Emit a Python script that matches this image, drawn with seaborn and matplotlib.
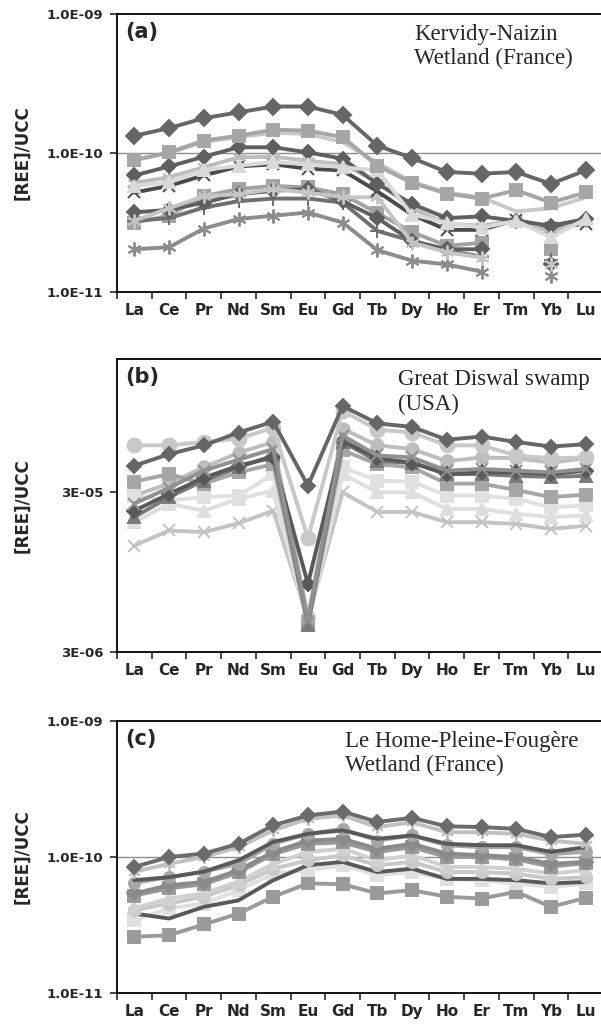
import numpy as np
import matplotlib
matplotlib.use("Agg")
import matplotlib.pyplot as plt
import matplotlib.ticker as mticker
import pandas as pd
import seaborn as sns

# REE normalised to upper continental crust
elements = ['La', 'Ce', 'Pr', 'Nd', 'Sm', 'Eu', 'Gd', 'Tb', 'Dy', 'Ho', 'Er', 'Tm', 'Yb', 'Lu']
nan = np.nan

# (a) Kervidy-Naizin, values in units of 1e-10
kn_1 = [1.33, 1.51, 1.78, 1.96, 2.16, 2.16, 1.88, 1.13, 0.92, 0.73, 0.71, 0.73, 0.60, 0.75]
kn_2 = [0.89, 1.01, 1.23, 1.33, 1.47, 1.45, 1.30, 0.81, 0.61, 0.51, 0.47, 0.54, 0.44, 0.52]
kn_3 = [0.89, 1.00, 1.20, 1.30, 1.40, 1.37, 1.20, 0.85, 0.62, 0.52, 0.48, 0.38, 0.40, 0.48]
kn_4 = [0.69, 0.80, 0.94, 1.10, 1.10, 1.01, 0.91, 0.60, 0.43, 0.34, 0.35, 0.325, 0.30, 0.335]
kn_5 = [0.52, 0.58, 0.69, 0.80, 0.83, 0.77, 0.75, 0.53, 0.36, 0.28, 0.28, 0.33, 0.29, 0.31]
kn_6 = [0.61, 0.67, 0.79, 0.93, 0.94, 0.88, 0.83, 0.62, 0.40, 0.31, 0.30, 0.33, 0.27, 0.33]
kn_7 = [0.58, 0.615, 0.755, 0.81, 0.86, 0.83, 0.79, 0.75, 0.36, 0.316, 0.29, 0.325, 0.247, 0.335]
kn_8 = [0.374, 0.39, 0.44, 0.505, 0.535, 0.55, 0.45, 0.34, 0.233, 0.203, 0.203, nan, 0.158, nan]
kn_9 = [0.325, 0.34, 0.405, 0.45, 0.47, 0.47, 0.44, 0.275, 0.233, 0.198, 0.18, nan, 0.17, nan]
kn_10 = [0.315, 0.354, 0.49, 0.55, 0.58, 0.565, 0.505, 0.37, 0.27, 0.215, 0.226, nan, 0.203, nan]
kn_11 = [0.325, 0.40, 0.49, 0.505, 0.55, 0.52, 0.48, 0.48, 0.227, 0.193, 0.177, nan, 0.158, nan]
kn_12 = [0.203, 0.21, 0.286, 0.335, 0.354, 0.373, 0.316, 0.20, 0.168, 0.158, 0.14, nan, 0.13, nan]

# (b) Great Diswal swamp, values in units of 1e-5
gd_1 = [4.4, 5.2, 5.9, 7.1, 8.3, 3.3, 10.4, 8.1, 7.7, 6.4, 6.7, 6.2, 5.8, 6.0]
gd_2 = [5.9, 5.9, 6.2, 6.5, 7.6, 1.55, 9.7, 7.4, 7.1, 5.9, 5.9, 5.1, 4.9, 4.96]
gd_3 = [2.86, 3.4, 4.3, 5.3, 6.2, 0.50, 7.5, 5.9, 5.6, 4.7, 4.96, 4.9, 4.6, 4.9]
gd_4 = [2.55, 3.2, 4.1, 4.8, 5.6, 0.47, 6.8, 5.1, 4.96, 4.1, 4.2, 4.1, 4.0, 4.2]
gd_5 = [2.1, 2.8, 3.55, 4.3, 5.1, 0.44, 6.2, 4.7, 4.6, 3.9, 3.9, 3.8, 3.75, 3.8]
gd_6 = [2.3, 2.93, 3.7, 4.4, 4.96, 0.80, 6.3, 4.9, 4.6, 3.9, 4.0, 4.0, 3.9, 4.1]
gd_7 = [3.5, 3.9, 3.4, 4.0, 4.5, 0.45, 5.5, 4.5, 4.3, 3.4, 3.4, 3.1, 2.8, 2.9]
gd_8 = [2.86, 2.66, 2.8, 2.86, 3.9, 0.47, 4.3, 3.55, 3.5, 2.86, 2.86, 2.73, 2.42, 2.48]
gd_9 = [1.95, 2.54, 2.3, 2.73, 3.07, 0.45, 3.9, 3.0, 3.0, 2.36, 2.36, 2.2, 2.1, 2.15]
gd_10 = [1.39, 1.73, 1.69, 1.92, 2.3, 0.48, 3.0, 2.26, 2.26, 1.95, 1.95, 1.9, 1.77, 1.85]

# (c) Le Home-Pleine-Fougere, values in units of 1e-10
lh_1 = [0.845, 1.0, 1.06, 1.25, 1.71, 2.02, 2.16, 1.81, 1.94, 1.68, 1.66, 1.61, 1.40, 1.46]
lh_2 = [0.78, 0.89, 1.0, 1.18, 1.57, 1.91, 2.02, 1.66, 1.80, 1.52, 1.52, 1.48, 1.32, 1.25]
lh_3 = [0.675, 0.71, 0.78, 0.945, 1.29, 1.48, 1.57, 1.36, 1.44, 1.25, 1.22, 1.22, 1.09, 1.18]
lh_4 = [0.645, 0.71, 0.78, 0.89, 1.25, 1.48, 1.61, 1.32, 1.44, 1.22, 1.18, 1.18, 1.05, 1.09]
lh_5 = [0.54, 0.62, 0.655, 0.80, 1.09, 1.32, 1.36, 1.15, 1.25, 1.06, 1.03, 1.0, 0.89, 0.92]
lh_6 = [0.52, 0.59, 0.63, 0.77, 1.05, 1.25, 1.28, 1.09, 1.18, 1.0, 1.0, 0.96, 0.85, 0.90]
lh_7 = [0.406, 0.455, 0.51, 0.62, 0.82, 0.945, 1.03, 0.87, 0.92, 0.775, 0.775, 0.755, 0.69, 0.71]
lh_8 = [0.42, 0.495, 0.54, 0.66, 0.89, 1.09, 1.15, 0.945, 1.03, 0.845, 0.845, 0.82, 0.755, 0.80]
lh_9 = [0.384, 0.353, 0.43, 0.48, 0.675, 0.87, 0.92, 0.775, 0.82, 0.69, 0.69, 0.675, 0.64, 0.655]
lh_10 = [0.343, 0.42, 0.455, 0.57, 0.755, 0.80, 0.87, 0.735, 0.775, 0.69, 0.675, 0.64, 0.60, 0.64]
lh_11 = [0.259, 0.266, 0.319, 0.384, 0.51, 0.64, 0.63, 0.54, 0.57, 0.51, 0.495, 0.555, 0.43, 0.50]

ast = (6, 2, 0)  # excel-like asterisk

# (values, colour, marker, markersize)
panel_a = [(kn_12, '#8c8c8c', ast, 10), (kn_10, '#a3a3a3', 's', 9), (kn_9, '#707070', '+', 10),
           (kn_8, '#5f5f5f', 'D', 7), (kn_11, '#c4c4c4', ast, 10), (kn_5, '#4a4a4a', 'x', 8),
           (kn_6, '#bdbdbd', ast, 10), (kn_4, '#5f5f5f', 'D', 7), (kn_7, '#d9d9d9', '^', 9),
           (kn_3, '#c8c8c8', None, 0), (kn_2, '#a6a6a6', 's', 9), (kn_1, '#666666', 'D', 8)]
panel_b = [(gd_3, '#bdbdbd', 'o', 9), (gd_10, '#c3c3c3', 'x', 9), (gd_9, '#dedede', '^', 9),
           (gd_8, '#e0e0e0', 's', 9), (gd_7, '#a6a6a6', 's', 9), (gd_5, '#7a7a7a', '^', 9),
           (gd_6, '#595959', 'D', 7), (gd_4, '#909090', 'x', 8), (gd_2, '#c8c8c8', 'o', 10),
           (gd_1, '#666666', 'D', 7)]
panel_c = [(lh_11, '#9a9a9a', 's', 9), (lh_10, '#e0e0e0', 's', 9), (lh_9, '#595959', None, 0),
           (lh_7, '#c8c8c8', 'o', 8), (lh_8, '#d0d0d0', '^', 8), (lh_6, '#999999', 's', 8),
           (lh_5, '#8a8a8a', 'D', 7), (lh_4, '#a6a6a6', 'o', 8), (lh_3, '#595959', None, 0),
           (lh_2, '#c0c0c0', ast, 9), (lh_1, '#6b6b6b', 'D', 7)]

sns.set_style('ticks')
plt.rcParams['font.family'] = ['DejaVu Sans']
plt.rcParams['font.weight'] = 'bold'

fig = plt.figure(figsize=(6.01, 10.26), dpi=100)
W, H = 601.0, 1026.0
left, right = 117, 603


def make_ax(top, bottom):
    return fig.add_axes([left / W, (H - bottom) / H, (right - left) / W, (bottom - top) / H])


def draw(ax, series, scale):
    for vals, color, marker, ms in series:
        df = pd.DataFrame({'pos': np.arange(len(elements)), 'val': np.array(vals, float) * scale})
        df['seg'] = df['val'].isna().cumsum()
        df = df.dropna()
        kw = dict(color=color, linewidth=2.8, legend=False, sort=False, ax=ax)
        if marker is not None:
            kw.update(marker=marker, markersize=ms, markeredgecolor=color,
                      markerfacecolor=color, markeredgewidth=1.4)
        sns.lineplot(data=df, x='pos', y='val', units='seg', estimator=None, **kw)


def style(ax, ylim, yticks, fmt, label, title, tx, grid):
    ax.set_yscale('log')
    ax.set_ylim(*ylim)
    ax.yaxis.set_major_locator(mticker.FixedLocator(yticks))
    ax.yaxis.set_major_formatter(mticker.FuncFormatter(lambda v, p: fmt.format(v)))
    ax.yaxis.set_minor_locator(mticker.NullLocator())
    ax.set_xlim(-0.5, 13.5)
    ax.xaxis.set_major_locator(mticker.FixedLocator(np.arange(-0.5, 14, 1)))
    ax.xaxis.set_major_formatter(mticker.NullFormatter())
    ax.xaxis.set_minor_locator(mticker.FixedLocator(np.arange(14)))
    ax.xaxis.set_minor_formatter(mticker.FixedFormatter(elements))
    ax.tick_params(axis='x', which='major', length=5, width=1.2, direction='out')
    ax.tick_params(axis='x', which='minor', length=0, pad=8, labelsize=11)
    ax.tick_params(axis='y', which='major', length=5, width=1.2, direction='out', pad=5, labelsize=9.5)
    for lab in ax.get_xticklabels(minor=True) + ax.get_yticklabels():
        lab.set_fontweight('bold')
    for s in ax.spines.values():
        s.set_linewidth(1.3)
        s.set_color('black')
    if grid:
        ax.axhline(grid, color='#8c8c8c', linewidth=1.0, zorder=0)
    ax.set_xlabel('')
    ax.set_ylabel('[REE]/UCC', fontsize=12, fontweight='bold')
    ax.yaxis.set_label_coords(-(left - 31) / (right - left), 0.5)
    ax.text(0.016, 0.972, label, transform=ax.transAxes, fontsize=15, fontweight='bold',
            va='top', ha='left')
    ax.text(tx, 0.965, title, transform=ax.transAxes, fontsize=16.5, fontweight='normal',
            va='top', ha='left', family='Liberation Serif', linespacing=1.2)


ax_a = make_ax(14, 292)
draw(ax_a, panel_a, 1e-10)
style(ax_a, (1e-11, 1e-9), [1e-11, 1e-10, 1e-9], '{:.1E}', '(a)',
      'Kervidy-Naizin\nWetland (France)', 0.611, 1e-10)

ax_b = make_ax(359, 652)
draw(ax_b, panel_b, 1e-5)
style(ax_b, (3e-6, 2.05e-4), [3e-6, 3e-5], '{:.0E}', '(b)',
      'Great Diswal swamp\n(USA)', 0.578, None)

ax_c = make_ax(721, 993)
draw(ax_c, panel_c, 1e-10)
style(ax_c, (1e-11, 1e-9), [1e-11, 1e-10, 1e-9], '{:.1E}', '(c)',
      'Le Home-Pleine-Fougère\nWetland (France)', 0.469, 1e-10)

fig.savefig('out.png', dpi=100)
